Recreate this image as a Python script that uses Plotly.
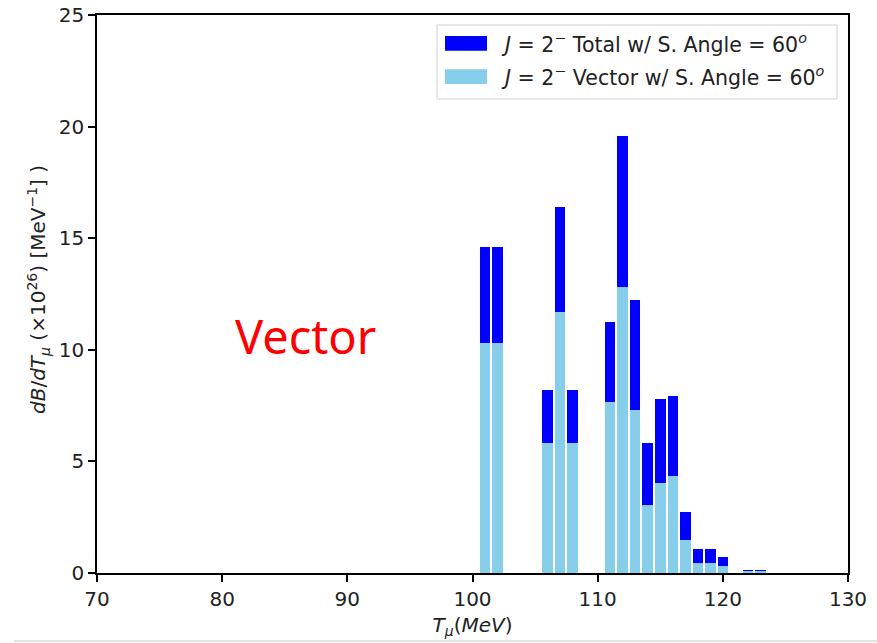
import plotly.graph_objects as go

# Data
t_mu = [101, 102, 106, 107, 108, 111, 112, 113, 114, 115, 116, 117, 118, 119, 120, 122, 123]
total = [14.6, 14.6, 8.18, 16.38, 8.18, 11.26, 19.56, 12.22, 5.81, 7.78, 7.93, 2.72, 1.06, 1.06, 0.70, 0.15, 0.15]
vector = [10.32, 10.32, 5.84, 11.68, 5.84, 7.65, 12.81, 7.30, 3.03, 4.03, 4.33, 1.48, 0.46, 0.46, 0.30, 0.08, 0.08]
x_ticks = [70, 80, 90, 100, 110, 120, 130]
y_ticks = [0, 5, 10, 15, 20, 25]
legend_labels = ["<i>J</i> = 2<sup>−</sup> Total w/ S. Angle = 60<sup><i>o</i></sup>",
                 "<i>J</i> = 2<sup>−</sup> Vector w/ S. Angle = 60<sup><i>o</i></sup>"]
y_title = "<i>dB</i>/<i>dT</i><sub><i>μ</i></sub> (×10<sup>26</sup>) [MeV<sup>−1</sup>] )"
x_title = "<i>T</i><sub><i>μ</i></sub>(<i>MeV</i>)"
colors = ["#0000FF", "#87CEEB"]

W, H = 877, 643
L, R, T, B = 97, 848, 15, 573


def px(x):
    return (x - L) / (R - L)


def py(y):
    return (B - y) / (B - T)


FONT = "DejaVu Sans"
FS = 20
TXT = "#222"

fig = go.Figure()
fig.add_trace(go.Bar(x=t_mu, y=total, width=0.84, marker=dict(color=colors[0], line=dict(width=0)),
                     name="Total", showlegend=False))
fig.add_trace(go.Bar(x=t_mu, y=vector, width=0.84, marker=dict(color=colors[1], line=dict(width=0)),
                     name="Vector", showlegend=False))

shapes = []
# legend box
shapes.append(dict(type="rect", xref="paper", yref="paper", x0=px(437), x1=px(837), y0=py(99), y1=py(25),
                   line=dict(color="#d0d0d0", width=1), fillcolor="rgba(255,255,255,0.8)", layer="above"))
annotations = []
rows = [(36, 50.7, 43.5), (69.3, 84, 76.5)]
for (ya, yb, yc), lab, col in zip(rows, legend_labels, colors):
    shapes.append(dict(type="rect", xref="paper", yref="paper", x0=px(445), x1=px(487), y0=py(yb), y1=py(ya),
                       line=dict(width=0), fillcolor=col, layer="above"))
    annotations.append(dict(xref="paper", yref="paper", x=px(499), y=py(yc), text=lab, showarrow=False,
                            xanchor="left", yanchor="middle", font=dict(family=FONT, size=20.5, color=TXT)))
# bottom grey border line of the picture
shapes.append(dict(type="line", xref="paper", yref="paper", x0=px(14), x1=px(877), y0=py(641), y1=py(641),
                   line=dict(color="#d9d9d9", width=1.5)))

annotations.append(dict(xref="paper", yref="paper", x=px(305), y=py(336), text="Vector", showarrow=False,
                        xanchor="center", yanchor="middle", font=dict(family="Noto Sans", size=47, color="#FF0000")))
# y axis title
annotations.append(dict(xref="paper", yref="paper", x=px(38), y=py(290), text=y_title, showarrow=False,
                        textangle=-90, xanchor="center", yanchor="middle",
                        font=dict(family=FONT, size=FS, color=TXT)))

fig.update_layout(
    width=W, height=H,
    margin=dict(l=L, r=W - R, t=T, b=H - B, pad=0, autoexpand=False),
    plot_bgcolor="white", paper_bgcolor="white",
    barmode="overlay", bargap=0,
    shapes=shapes, annotations=annotations,
    font=dict(family=FONT, size=FS, color=TXT),
)
fig.update_xaxes(range=[70, 130], tickvals=x_ticks, ticks="outside", ticklen=7, tickwidth=1.5, tickcolor="black",
                 showline=True, linecolor="black", linewidth=1.5, mirror=True, showgrid=False, zeroline=False,
                 automargin=False, tickfont=dict(family=FONT, size=FS, color=TXT),
                 title=dict(text=x_title, standoff=8, font=dict(family=FONT, size=FS, color=TXT)))
fig.update_yaxes(range=[0, 25], tickvals=y_ticks, ticks="outside", ticklen=7, tickwidth=1.5, tickcolor="black",
                 showline=True, linecolor="black", linewidth=1.5, mirror=True, showgrid=False, zeroline=False,
                 automargin=False, tickfont=dict(family=FONT, size=FS, color=TXT))

fig.write_html("out.html")
